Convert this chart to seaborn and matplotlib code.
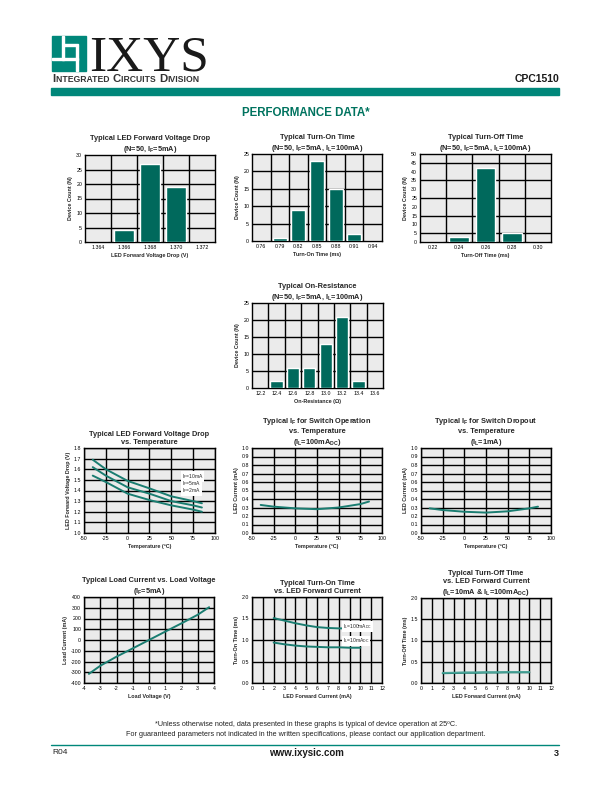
import matplotlib
matplotlib.use('Agg')
import matplotlib.pyplot as plt
import seaborn as sns
import numpy as np
import pandas as pd
from matplotlib.ticker import MultipleLocator, FormatStrFormatter
import matplotlib.patches as mpatches
import matplotlib.lines as mlines

sns.set_style('white')
plt.rcParams['font.family'] = ['Liberation Sans', 'DejaVu Sans']
plt.rcParams['mathtext.fontset'] = 'custom'
plt.rcParams['mathtext.rm'] = 'Liberation Sans'
plt.rcParams['mathtext.bf'] = 'Liberation Sans:bold'
plt.rcParams['mathtext.it'] = 'Liberation Sans:italic'
plt.rcParams['mathtext.default'] = 'bf'
plt.rcParams['axes.unicode_minus'] = False

# ---- histogram data (N=50 each) ----
vf_bins = ['1.364', '1.366', '1.368', '1.370', '1.372']
vf_count = [0, 4, 27, 19, 0]
ton_bins = ['0.76', '0.79', '0.82', '0.85', '0.88', '0.91', '0.94']
ton_count = [0, 1, 9, 23, 15, 2, 0]
toff_bins = ['0.22', '0.24', '0.26', '0.28', '0.30']
toff_count = [0, 3, 42, 5, 0]
ron_bins = ['12.2', '12.4', '12.6', '12.8', '13.0', '13.2', '13.4', '13.6']
ron_count = [0, 2, 6, 6, 13, 21, 2, 0]

# ---- curves ----
temp = [-40, -25, 0, 25, 50, 75, 85]
vf_10ma = [1.69, 1.60, 1.49, 1.42, 1.345, 1.30, 1.28]
vf_5ma = [1.62, 1.54, 1.43, 1.37, 1.30, 1.26, 1.24]
vf_2ma = [1.54, 1.48, 1.37, 1.31, 1.26, 1.22, 1.20]
if_operate = [0.33, 0.31, 0.29, 0.28, 0.30, 0.34, 0.37]
if_dropout = [0.29, 0.27, 0.25, 0.24, 0.255, 0.29, 0.31]

load_v = [-3.7, -3, -2, -1, 0, 1, 2, 3, 3.7]
load_i = [-315, -240, -155, -78, 0, 78, 155, 235, 305]

led_if = [2, 3, 4, 5, 6, 7, 8, 9, 10]
ton_100ma = [1.51, 1.45, 1.39, 1.34, 1.30, 1.28, 1.27, 1.27, 1.27]
ton_10ma = [0.94, 0.90, 0.87, 0.85, 0.84, 0.83, 0.83, 0.82, 0.82]
toff_10ma = [0.23, 0.235, 0.24, 0.24, 0.245, 0.245, 0.25, 0.25, 0.25]
toff_100ma = [0.24, 0.245, 0.25, 0.25, 0.255, 0.255, 0.26, 0.26, 0.26]

BAR = '#00695c'
LINE = '#1a7d71'
TEAL = '#00877a'
BG = '#ebebeb'

W, H = 612, 792
fig = plt.figure(figsize=(W / 100, H / 100), dpi=100)


def box(l, t, r, b):
    return fig.add_axes([l / W, 1 - b / H, (r - l) / W, (b - t) / H])


def frame(ax, title, xlabel, ylabel):
    ax.set_facecolor(BG)
    for s in ax.spines.values():
        s.set_visible(True)
        s.set_color('black')
        s.set_linewidth(1.0)
    ax.set_title(title, fontsize=5.3, fontweight='bold', pad=3, linespacing=1.25)
    ax.tick_params(which='both', direction='in', labelsize=3.8, pad=2, colors='black')
    ax.tick_params(which='major', length=0)
    ax.tick_params(which='minor', length=2, width=0.5)
    ax.set_xlabel(xlabel, fontsize=3.9, fontweight='bold', labelpad=2)
    ax.set_ylabel(ylabel, fontsize=3.9, fontweight='bold', labelpad=2)


def hist_panel(ax, bins, counts, ymax, ystep, ygrid, title, xlabel):
    df = pd.DataFrame({'bin': bins, 'count': counts})
    sns.barplot(data=df, x='bin', y='count', color=BAR, saturation=1,
                width=0.75, ax=ax, zorder=3)
    frame(ax, title, xlabel, 'Device Count (N)')
    n = len(bins)
    ax.set_xlim(-0.5, n - 0.5)
    ax.set_ylim(0, ymax)
    ax.set_yticks(np.arange(0, ymax + 1, ystep))
    ax.yaxis.set_minor_locator(MultipleLocator(1))
    for x in np.arange(n - 1) + 0.5:
        ax.axvline(x, color='black', lw=1.0, zorder=1)
    for y in ygrid:
        ax.axhline(y, color='black', lw=1.0, zorder=1)


def line_panel(ax, title, xlabel, ylabel, xlim, xstep, xminor, ylim, ystep, yminor, yfmt=None):
    frame(ax, title, xlabel, ylabel)
    ax.set_xlim(xlim)
    ax.set_ylim(ylim)
    ax.xaxis.set_major_locator(MultipleLocator(xstep))
    ax.xaxis.set_minor_locator(MultipleLocator(xminor))
    ax.yaxis.set_major_locator(MultipleLocator(ystep))
    ax.yaxis.set_minor_locator(MultipleLocator(yminor))
    if yfmt:
        ax.yaxis.set_major_formatter(FormatStrFormatter(yfmt))
    ax.grid(which='major', color='black', lw=1.0)
    ax.set_axisbelow(True)


# ---------------- row 1: histograms ----------------
ax1 = box(85, 155, 215, 242)
hist_panel(ax1, vf_bins, vf_count, 30, 5, [5, 10, 15, 20, 25],
           'Typical LED Forward Voltage Drop\n(N=50, I$_F$=5mA)',
           'LED Forward Voltage Drop (V)')

ax2 = box(252, 154, 382, 241)
hist_panel(ax2, ton_bins, ton_count, 25, 5, [5, 10, 15, 20],
           'Typical Turn-On Time\n(N=50, I$_F$=5mA, I$_L$=100mA)',
           'Turn-On Time (ms)')

ax3 = box(420, 154, 551, 242)
hist_panel(ax3, toff_bins, toff_count, 50, 5, [5, 15, 25, 35, 45],
           'Typical Turn-Off Time\n(N=50, I$_F$=5mA, I$_L$=100mA)',
           'Turn-Off Time (ms)')
ax3.yaxis.set_minor_locator(MultipleLocator(5))

ax4 = box(252, 303, 383, 388)
hist_panel(ax4, ron_bins, ron_count, 25, 5, [5, 10, 15, 20],
           'Typical On-Resistance\n(N=50, I$_F$=5mA, I$_L$=100mA)',
           'On-Resistance (\u03a9)')

# ---------------- row 3: vs temperature ----------------
ax5 = box(84, 448, 215, 533)
line_panel(ax5, 'Typical LED Forward Voltage Drop\nvs. Temperature',
           'Temperature (\u00baC)', 'LED Forward Voltage Drop (V)',
           (-50, 100), 25, 5, (1.0, 1.8), 0.1, 0.05, '%.1f')
for vals in (vf_10ma, vf_5ma, vf_2ma):
    sns.lineplot(x=temp, y=vals, color=LINE, lw=1.4, ax=ax5)
for yv, lab in ((1.53, '10mA'), (1.465, '5mA'), (1.40, '2mA')):
    ax5.text(62, yv, r'I$_{\mathregular{F}}$=' + lab, fontsize=3.6, va='center',
             bbox=dict(facecolor='white', edgecolor='none', pad=0.6))

ax6 = box(252, 448, 382, 533)
line_panel(ax6, 'Typical I$_F$ for Switch Operation\nvs. Temperature\n(I$_L$=100mA$_{DC}$)',
           'Temperature (\u00baC)', 'LED Current (mA)',
           (-50, 100), 25, 5, (0.0, 1.0), 0.1, 0.05, '%.1f')
sns.lineplot(x=temp, y=if_operate, color=LINE, lw=1.4, ax=ax6)

ax7 = box(421, 448, 551, 533)
line_panel(ax7, 'Typical I$_F$ for Switch Dropout\nvs. Temperature\n(I$_L$=1mA)',
           'Temperature (\u00baC)', 'LED Current (mA)',
           (-50, 100), 25, 5, (0.0, 1.0), 0.1, 0.05, '%.1f')
sns.lineplot(x=temp, y=if_dropout, color=LINE, lw=1.4, ax=ax7)

# ---------------- row 4 ----------------
ax8 = box(84, 597, 214, 683)
line_panel(ax8, 'Typical Load Current vs. Load Voltage\n(I$_F$=5mA)',
           'Load Voltage (V)', 'Load Current (mA)',
           (-4, 4), 1, 0.2, (-400, 400), 100, 50)
sns.lineplot(x=load_v, y=load_i, color=LINE, lw=1.4, ax=ax8)

ax9 = box(252, 597, 382, 683)
line_panel(ax9, 'Typical Turn-On Time\nvs. LED Forward Current',
           'LED Forward Current (mA)', 'Turn-On Time (ms)',
           (0, 12), 1, 0.5, (0.0, 2.0), 0.5, 0.1, '%.1f')
sns.lineplot(x=led_if, y=ton_100ma, color=LINE, lw=1.4, ax=ax9)
sns.lineplot(x=led_if, y=ton_10ma, color=LINE, lw=1.4, ax=ax9)
ax9.text(8.4, 1.32, r'I$_{\mathregular{L}}$=100mA$_{\mathregular{DC}}$', fontsize=3.6,
         va='center', bbox=dict(facecolor='white', edgecolor='none', pad=0.6))
ax9.text(8.4, 0.98, r'I$_{\mathregular{L}}$=10mA$_{\mathregular{DC}}$', fontsize=3.6,
         va='center', bbox=dict(facecolor='white', edgecolor='none', pad=0.6))

ax10 = box(421, 598, 551, 683)
line_panel(ax10, 'Typical Turn-Off Time\nvs. LED Forward Current\n(I$_L$=10mA & I$_L$=100mA$_{DC}$)',
           'LED Forward Current (mA)', 'Turn-Off Time (ms)',
           (0, 12), 1, 0.5, (0.0, 2.0), 0.5, 0.1, '%.1f')
sns.lineplot(x=led_if, y=toff_10ma, color=LINE, lw=1.4, ax=ax10)
sns.lineplot(x=led_if, y=toff_100ma, color='#4aa398', lw=1.2, ax=ax10)

# ---------------- header ----------------
def fx(p):
    return p / W


def fy(p):
    return 1 - p / H


fig.add_artist(mpatches.Rectangle((fx(52), fy(71)), fx(86) - fx(52), fy(36) - fy(71),
                                  transform=fig.transFigure, color=TEAL))
for (x0, y0, x1, y1) in [(62, 36, 64, 60), (52, 58, 78, 60), (76, 46, 78, 71), (64, 44, 78, 46)]:
    fig.add_artist(mpatches.Rectangle((fx(x0), fy(y1)), fx(x1) - fx(x0), fy(y0) - fy(y1),
                                      transform=fig.transFigure, color='white'))
fig.text(fx(89), fy(70.5), 'IXYS', family='Liberation Serif', fontsize=37,
         va='baseline', ha='left', color='#1a1a1a')

renderer = fig.canvas.get_renderer()
xpos = 52
for frag, size in [('I', 8.2), ('NTEGRATED ', 6.2), ('C', 8.2), ('IRCUITS ', 6.2),
                   ('D', 8.2), ('IVISION', 6.2)]:
    t = fig.text(fx(xpos), fy(82), frag, fontsize=size, fontweight='bold',
                 va='baseline', ha='left', color='#333333')
    xpos += t.get_window_extent(renderer).width + 0.6

fig.text(fx(559), fy(82), 'CPC1510', fontsize=7.5, fontweight='bold',
         ha='right', va='baseline', color='#1a1a1a')
fig.add_artist(mpatches.Rectangle((fx(51), fy(95)), fx(559) - fx(51), fy(88) - fy(95),
                                  transform=fig.transFigure, color=TEAL))
fig.text(0.5, fy(113), 'PERFORMANCE DATA*', fontsize=8.3, fontweight='bold',
         ha='center', va='center', color='#00735f')

# ---------------- footer ----------------
fig.text(0.5, fy(725), '*Unless otherwise noted, data presented in these graphs is typical of device operation at 25\u00baC.',
         fontsize=5.2, ha='center', va='center', color='#222222')
fig.text(0.5, fy(735), 'For guaranteed parameters not indicated in the written specifications, please contact our application department.',
         fontsize=5.2, ha='center', va='center', color='#222222')
fig.add_artist(mlines.Line2D([fx(51), fx(559)], [fy(745), fy(745)],
                             transform=fig.transFigure, color=TEAL, lw=1.0))
fig.text(fx(52), fy(753), 'R04', fontsize=6, ha='left', va='center', color='#222222')
fig.text(0.5, fy(753), 'www.ixysic.com', fontsize=7, fontweight='bold',
         ha='center', va='center', color='#1a1a1a')
fig.text(fx(559), fy(753), '3', fontsize=6.5, fontweight='bold',
         ha='right', va='center', color='#1a1a1a')

fig.savefig('out.png', dpi=100)
